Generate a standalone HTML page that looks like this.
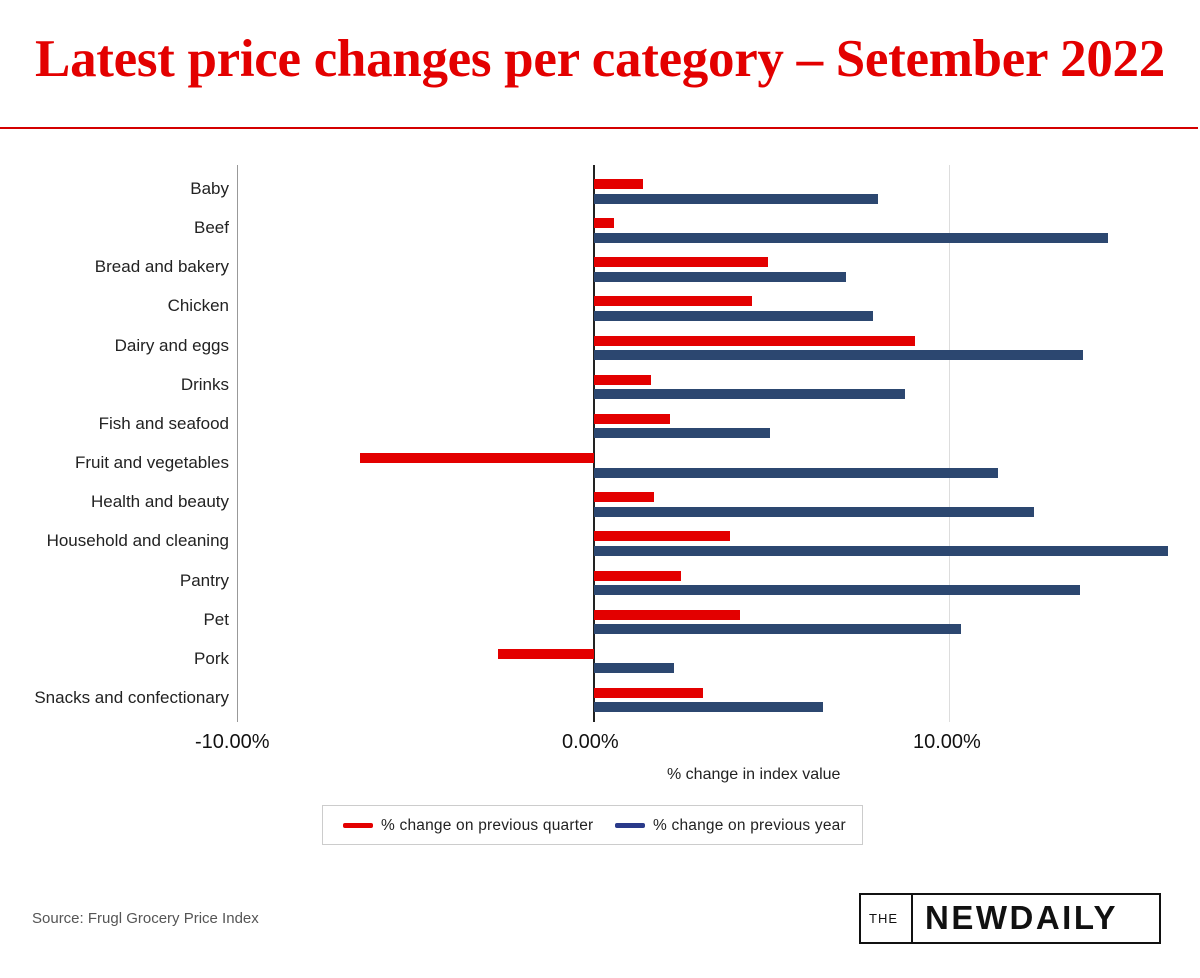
<!DOCTYPE html>
<html><head><style>
body{margin:0;width:1200px;height:978px;background:#fff;position:relative;font-family:"Liberation Sans",sans-serif;overflow:hidden}
.t{position:absolute;white-space:nowrap}
.lab{position:absolute;right:971px;font-size:17px;color:#222;white-space:nowrap}
.r,.b{position:absolute;height:10px}
.r{background:#e30000}.b{background:#2c4770}
</style></head><body>
<div class="t" style="left:0;width:1200px;text-align:center;top:29px;font-family:'Liberation Serif',serif;font-weight:bold;font-size:53px;color:#e30000;letter-spacing:-0.3px">Latest price changes per category – Setember 2022</div>
<div style="position:absolute;left:0;width:1198px;top:127px;height:2px;background:#d40000"></div>
<div style="position:absolute;left:237px;top:165px;width:1px;height:557px;background:#999"></div>
<div style="position:absolute;left:949px;top:165px;width:1px;height:557px;background:#ddd"></div>
<div style="position:absolute;left:593px;top:165px;width:2px;height:557px;background:#222"></div>
<div id="c"></div>
<div class="t" style="left:195px;top:731px;font-size:20px;color:#111">-10.00%</div>
<div class="t" style="left:562px;top:731px;font-size:20px;color:#111">0.00%</div>
<div class="t" style="left:913px;top:731px;font-size:20px;color:#111">10.00%</div>
<div class="t" style="left:667px;top:766px;font-size:16px;color:#222">% change in index value</div>
<div style="position:absolute;left:322px;top:805px;width:541px;height:40px;border:1px solid #ccc;box-sizing:border-box"></div>
<div style="position:absolute;left:343px;top:823px;width:30px;height:5px;background:#e30000;border-radius:2px"></div>
<div class="t" style="left:381px;top:817px;font-size:15.5px;color:#222;letter-spacing:0.2px">% change on previous quarter</div>
<div style="position:absolute;left:615px;top:823px;width:30px;height:5px;background:#2a3a8a;border-radius:2px"></div>
<div class="t" style="left:653px;top:817px;font-size:15.5px;color:#222;letter-spacing:0.2px">% change on previous year</div>
<div class="t" style="left:32px;top:910px;font-size:15px;color:#555">Source: Frugl Grocery Price Index</div>
<div style="position:absolute;left:859px;top:893px;width:302px;height:51px;border:2px solid #111;box-sizing:border-box"></div>
<div style="position:absolute;left:911px;top:893px;width:2px;height:51px;background:#111"></div>
<div class="t" style="left:869px;top:911px;font-size:13px;color:#111;letter-spacing:1px">THE</div>
<div class="t" style="left:925px;top:899px;font-size:33px;font-weight:bold;color:#111;letter-spacing:2.5px">NEWDAILY</div>
<script>
var d=[["Baby",643,878],["Beef",614,1108],["Bread and bakery",768,846],["Chicken",752,873],["Dairy and eggs",915,1083],["Drinks",651,905],["Fish and seafood",670,770],["Fruit and vegetables",360,998],["Health and beauty",654,1034],["Household and cleaning",730,1168],["Pantry",681,1080],["Pet",740,961],["Pork",498,674],["Snacks and confectionary",703,823]];
var h="";d.forEach(function(r,i){var y=179+i*39.15;
h+='<div class="lab" style="top:'+(y+0)+'px">'+r[0]+'</div>';
var a=Math.min(594,r[1]),b=Math.max(594,r[1]);
h+='<div class="r" style="top:'+y+'px;left:'+a+'px;width:'+(b-a)+'px"></div>';
h+='<div class="b" style="top:'+(y+14.5)+'px;left:594px;width:'+(r[2]-594)+'px"></div>';});
document.getElementById("c").innerHTML=h;
</script>
</body></html>
